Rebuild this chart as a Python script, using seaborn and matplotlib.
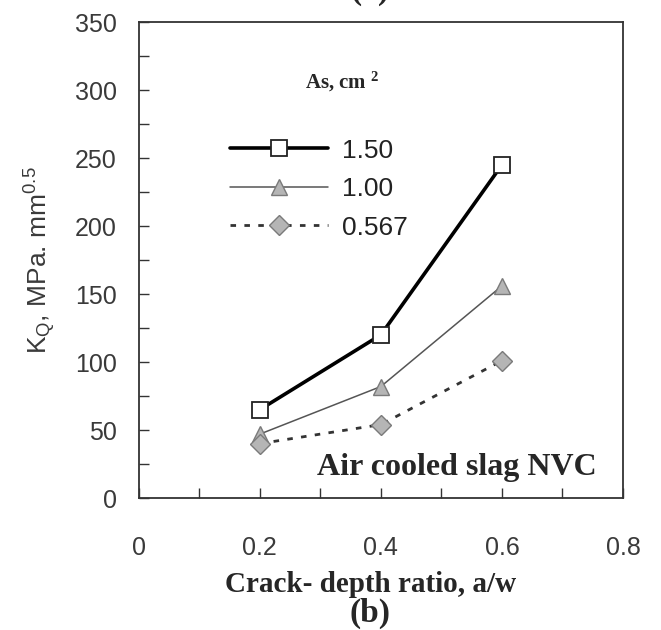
import pandas as pd
import matplotlib.pyplot as plt
import seaborn as sns
from matplotlib.ticker import MultipleLocator, FuncFormatter

sns.set_style("ticks")
plt.rcParams["font.family"] = ["Liberation Sans", "DejaVu Sans"]
plt.rcParams["mathtext.fontset"] = "custom"
plt.rcParams["mathtext.rm"] = "Liberation Sans"
plt.rcParams["mathtext.it"] = "Liberation Sans:italic"
plt.rcParams["mathtext.bf"] = "Liberation Serif:bold"

# data
crack_ratio = [0.2, 0.4, 0.6]
as_labels = ["1.50", "1.00", "0.567"]
kq_150 = [65, 120, 245]
kq_100 = [47, 82, 156]
kq_0567 = [40, 54, 101]

df = pd.DataFrame({
    "a_w": crack_ratio * 3,
    "KQ": kq_150 + kq_100 + kq_0567,
    "As": [as_labels[0]] * 3 + [as_labels[1]] * 3 + [as_labels[2]] * 3,
})

styles = {
    "1.50": dict(color="black", lw=2.6, ls="-", marker="s", ms=11,
                 mfc="white", mec="#222222", mew=1.3),
    "1.00": dict(color="#555555", lw=1.1, ls="-", marker="^", ms=12,
                 mfc="#b5b5b5", mec="#7a7a7a", mew=1.0),
    "0.567": dict(color="#333333", lw=2.0, ls=(0, (2, 3)), marker="D", ms=10,
                  mfc="#b5b5b5", mec="#7a7a7a", mew=1.0),
}

fig = plt.figure(figsize=(6.61, 6.30), dpi=100)
ax = fig.add_axes([0.21, 0.2095, 0.7325, 0.7555])

for lab in as_labels:
    sub = df[df["As"] == lab]
    s = styles[lab]
    sns.lineplot(data=sub, x="a_w", y="KQ", ax=ax, label=lab,
                 color=s["color"], linewidth=s["lw"], linestyle=s["ls"],
                 marker=s["marker"], markersize=s["ms"],
                 markerfacecolor=s["mfc"], markeredgecolor=s["mec"],
                 markeredgewidth=s["mew"])

ax.set_xlim(0, 0.8)
ax.set_ylim(0, 350)
ax.xaxis.set_major_locator(MultipleLocator(0.2))
ax.xaxis.set_minor_locator(MultipleLocator(0.1))
ax.yaxis.set_major_locator(MultipleLocator(50))
ax.yaxis.set_minor_locator(MultipleLocator(25))
ax.xaxis.set_major_formatter(FuncFormatter(lambda v, p: "0" if abs(v) < 1e-9 else f"{v:.1f}"))
ax.tick_params(axis="both", which="both", direction="in", length=7,
               width=1.0, color="#333333", labelsize=18, labelcolor="#3a3a3a")
ax.tick_params(axis="x", which="major", pad=27)
ax.tick_params(axis="y", which="major", pad=16)
for sp in ax.spines.values():
    sp.set_visible(True)
    sp.set_linewidth(1.3)
    sp.set_color("#333333")

ax.set_xlabel("")
ax.set_ylabel(r"K$_{\mathrm{Q}}$, MPa. mm$^{0.5}$", fontsize=19,
              color="#3a3a3a", labelpad=12)

leg = ax.legend(loc="upper left", bbox_to_anchor=(0.14, 0.805), frameon=False,
                handlelength=3.7, fontsize=19, labelspacing=0.55,
                handletextpad=0.55, labelcolor="#222222")

ax.text(0.42, 0.875, r"As, cm $^{\mathbf{2}}$", transform=ax.transAxes,
        ha="center", va="center", fontsize=15, fontweight="bold",
        family="Liberation Serif")
ax.text(0.945, 0.065, "Air cooled slag NVC", transform=ax.transAxes,
        ha="right", va="center", fontsize=23, fontweight="bold",
        family="Liberation Serif")

fig.text(0.56, 1 - 585 / 630, "Crack- depth ratio, a/w", ha="center",
         va="center", fontsize=21, fontweight="bold", family="Liberation Serif")
fig.text(0.56, 1 - 613 / 630, "(b)", ha="center", va="center",
         fontsize=24, fontweight="bold", family="Liberation Serif")
fig.text(0.56, 1 + 9 / 630, "(a)", ha="center", va="center",
         fontsize=24, fontweight="bold", family="Liberation Serif")

fig.savefig("out.png", dpi=100)
